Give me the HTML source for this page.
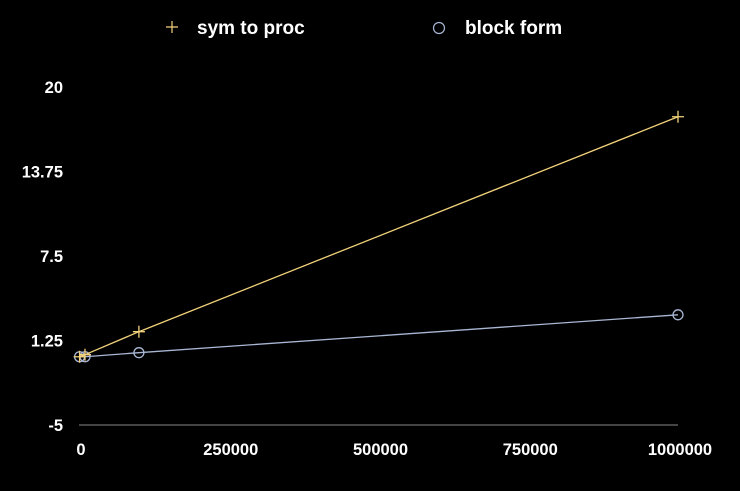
<!DOCTYPE html>
<html><head><meta charset="utf-8"><style>
body{margin:0;background:#000;width:740px;height:486px;overflow:hidden}
svg text{font-family:"Liberation Sans",Arial,sans-serif;font-weight:bold;fill:#fff}
</style></head><body>
<svg id="chart" width="740" height="486">
<g>
<g><path d="M166 27h12M172 21v12" stroke="#f2d27a" stroke-width="1.2"/><text x="197" y="34" font-size="19">sym to proc</text></g>
<g><circle cx="439" cy="28" r="5.5" fill="none" stroke="#a9b7d4" stroke-width="1.2"/><text x="465" y="34" font-size="19">block form</text></g>
</g>
<line x1="79" y1="425" x2="678" y2="425" stroke="#888"/>
<g id="yt"></g>
<g id="xt"></g>
<g id="series"></g>
</svg>
<script>
const xValues=[1000,10000,100000,1000000];
const symToProc=[0.05,0.2,1.9,17.8];
const blockForm=[0.05,0.05,0.35,3.15];
const yTicks=[-5,1.25,7.5,13.75,20];
const yTickLabels=["-5","1.25","7.5","13.75","20"];
const xTicks=[0,250000,500000,750000,1000000];
const xTickLabels=["0","250000","500000","750000","1000000"];
const NS="http://www.w3.org/2000/svg";
const sx=v=>79+v/1000000*599;
const sy=v=>425-(v+5)/25*338;
function mk(t,a,p){const e=document.createElementNS(NS,t);for(const k in a)e.setAttribute(k,a[k]);p.appendChild(e);return e;}
const yt=document.getElementById('yt'),xt=document.getElementById('xt'),S=document.getElementById('series');
yTicks.forEach((v,i)=>{const t=mk('text',{x:63,y:sy(v)+6,'font-size':16.5,'text-anchor':'end'},yt);t.textContent=yTickLabels[i];

});
xTicks.forEach((v,i)=>{const t=mk('text',{x:sx(v)+2,y:455,'font-size':16.5,'text-anchor':'middle'},xt);t.textContent=xTickLabels[i];

});
function series(vals,color,marker,name){
const g=mk('g',{},S);


const pts=xValues.map((x,i)=>sx(x)+','+sy(vals[i])).join(' ');
const l=mk('polyline',{points:pts,fill:'none',stroke:color,'stroke-width':1.3},g);


xValues.forEach((x,i)=>{const cx=sx(x),cy=sy(vals[i]);let m;
if(marker==='plus')m=mk('path',{d:`M${cx-6} ${cy}h12M${cx} ${cy-6}v12`,stroke:color,'stroke-width':1.3,fill:'none'},g);
else m=mk('circle',{cx:cx,cy:cy,r:5,fill:'none',stroke:color,'stroke-width':1.3},g);

});
}
series(blockForm,'#a9b7d4','circle','block-form-series');
series(symToProc,'#f2d27a','plus','sym-to-proc-series');
</script>
</body></html>
